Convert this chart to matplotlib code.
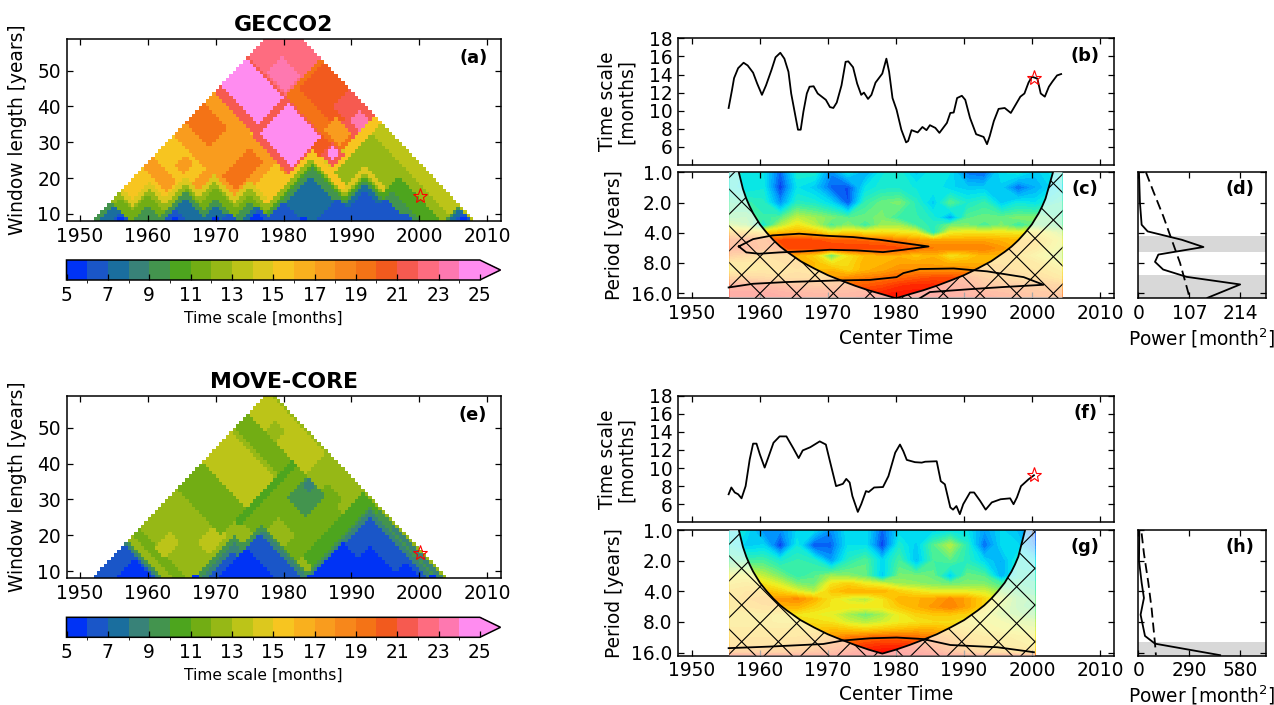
import numpy as np
import matplotlib
matplotlib.use("Agg")
import matplotlib.pyplot as plt
from matplotlib.colors import ListedColormap, BoundaryNorm, LinearSegmentedColormap
from matplotlib.lines import Line2D
from matplotlib.patches import Polygon
from matplotlib.transforms import IdentityTransform

W, H = 1274, 705
FS = 13.4
plt.rcParams.update({"font.size": FS, "font.family": "DejaVu Sans"})

# ------------------------------------------------ colour scale of the window maps
LEVELS = list(range(5, 26))
MAP_COLORS = ["#0033f5", "#1a56c8", "#1a6e9e", "#388278", "#43944e", "#4da51e", "#72ad14",
              "#96b816", "#bcc418", "#dcc81e", "#f7c520", "#f9b01e", "#f99c1e", "#f7871b",
              "#f47316", "#f25a1e", "#f65a50", "#fe6c80", "#fe78b0", "#ff8cf0"]
CBAR_TICKS = list(range(5, 26, 2))
YEAR_TICKS = [1950, 1960, 1970, 1980, 1990, 2000, 2010]
LEN_TICKS = [10, 20, 30, 40, 50]

# ------------------------------------------------ panel (a): blocks of window start / window end
# (first year from, to, last year from, to, time scale in months)
A_BLOCKS = [
    (1974, 1977, 1985, 2012, 14.5), (1977, 2012, 1960, 2012, 12.5),
    (1988, 2012, 2000, 2004, 11.5), (1980, 1990, 2000, 2006, 12),
    (1976, 2012, 2009.5, 2013, 13.5),
    (1948, 1952, 1971, 1974, 17), (1951.5, 1955, 1971, 1974, 17),
    (1952.5, 1955, 1976, 1979, 17), (1957.5, 1960, 1976, 1980, 17),
    (1958.5, 1963, 1982, 1991.5, 16.2),
    (1948, 1958.5, 1980, 1991.8, 17.6), (1948, 1954.6, 1983.4, 1989, 19),
    (1958, 1967, 1979, 1991.5, 17), (1961, 1965, 1981.5, 1989.5, 19.5),
    (1967, 1974, 1986, 1992, 15.5),
    (1968, 1972, 1991, 1998, 18.5), (1972, 1977, 1990, 1998, 15),
    (1970, 1972.5, 1992, 2002, 18.5),
    (1948, 1960, 1992, 2002, 21.5), (1948, 1959, 1994, 2001.5, 24.5),
    (1960, 1970.5, 1991.3, 2002, 21.5), (1960.5, 1969.7, 1992.8, 2001.5, 24.5),
    (1948, 1959, 2002, 2013, 22.5), (1953, 1958.5, 2002.5, 2007, 23.5),
    (1959, 1975, 2002, 2013, 19.5), (1960, 1972, 2005, 2013, 20.5),
    (1967.5, 1971.5, 2007.5, 2013, 21.5), (1971, 1975, 2006, 2013, 21.5),
    (1972, 1975, 2008, 2011, 23), (1969.5, 1974, 2003, 2006.5, 17),
    (1975, 1977, 2003, 2013, 15), (1970, 1972.2, 1998, 2002, 20.5),
    (1972.2, 1975.6, 1998.9, 2002.4, 21.5), (1973, 1974.8, 1999.8, 2001.6, 24.5),
    (1975.6, 1977, 1995, 2003, 15),
]
# windows lying inside a quiet period: (centre of the longest window, its length, months)
A_QUIET = [
    (1955.8, 18, 14), (1960.2, 19, 14), (1965.6, 20.5, 14), (1969.8, 21, 14), (1975, 19, 14),
    (1984.1, 28, 15), (1992, 23, 14),
    (1955.8, 15.6, 12), (1960.2, 17, 12), (1965.6, 18.5, 12), (1969.8, 19, 12), (1975, 17, 12),
    (1984.1, 25.5, 12), (1992, 21, 12),
    (1955.8, 14.5, 11), (1960.2, 15.5, 11), (1965.6, 17, 11), (1969.8, 17.5, 11), (1975, 15.5, 11),
    (1984.1, 24, 10.5), (1992, 20, 10.5), (1997, 20, 10.5),
    (1954.4, 13.7, 9), (1960, 12.5, 9), (1965.6, 16.5, 9), (1970, 14, 9), (1975, 13, 9),
    (1984.1, 23, 9), (1992, 19, 9), (1996, 16.5, 9), (2005.9, 12, 9),
    (1965.6, 14.5, 7.5), (1984.1, 20.5, 7.5), (1992, 18, 7.5), (1976, 12, 7.5), (1970, 12, 7.5),
    (1954.8, 12.5, 7.5), (2006, 11.5, 7.5),
    (1992, 16, 6.5), (1995, 14.5, 6.5), (1955.8, 10.5, 6.5), (1964, 11.5, 6.5), (1976.5, 11.5, 6.5),
    (1972, 10.5, 6.5), (1980, 13.5, 6.5), (1988, 14, 6.5), (2006.3, 10.5, 6.5), (1998, 10, 6.5),
    (1955.8, 9.5, 5.5), (1976, 10.5, 5.5), (1964, 9.5, 5.5), (1983, 9.5, 5.5), (2006.5, 9.5, 5.5),
    (1970, 9, 5.5),
]
A_LAST_YEAR = 2012
A_STAR = (2000.2, 15)

# ------------------------------------------------ panel (e)
E_BLOCKS = [
    (1948, 1963, 1968, 1970, 11.5), (1953, 1956, 1969.5, 1974, 13.5),
    (1958.5, 1962, 1976.5, 1982, 13.5),
    (1948, 1961, 1981, 1988.3, 11.5), (1948, 1961, 1988.3, 1996.7, 13.5),
    (1948, 1961, 1996.7, 1998, 12), (1948, 1961, 1998, 2002, 11.5),
    (1948, 1965, 2002, 2008, 13), (1953, 1956, 2002, 2005, 12.5),
    (1961, 1962.5, 1985, 2002, 10.5), (1962.5, 1966, 1986, 2002, 11),
    (1966, 1976, 1980, 2002, 11), (1967, 1972, 1986, 1992, 12),
    (1965.5, 1971, 1996, 2002, 9.5), (1965.7, 1968, 2000, 2002.5, 8),
    (1976, 1984, 1990, 2000, 10), (1966, 1976, 2002, 2008, 12.5),
    (1969.5, 1974, 2002, 2004, 11), (1976, 1984, 2000, 2008, 10.5),
    (1981, 1990, 2003, 2008, 9.5), (1985, 2008, 1995, 2008, 8.5),
]
E_QUIET = [
    (1956.3, 19.5, 9), (1972.7, 19.6, 9), (1976.8, 23, 9), (1981, 13, 9), (1992.9, 28, 9), (2000.5, 12, 9.5),
    (1956.3, 18.5, 8), (1972.7, 18, 8), (1976.8, 21.5, 8), (1992.9, 27, 8), (1982, 11, 8), (2000, 10.5, 8),
    (1956.3, 17.5, 6.5), (1972.5, 15, 6.5), (1976.5, 20, 6.5), (1992.9, 25, 6.5), (1980, 10, 6.5), (1985, 10, 6.5),
    (1957.8, 13.5, 5.5), (1974.5, 16, 5.5), (1988.7, 17.7, 5.5), (1992.9, 16.8, 5.5), (1998, 12, 5.5),
    (2002, 9.5, 5.5), (1984, 9, 5.5), (1967, 9.2, 5.5),
]
E_LAST_YEAR = 2008
E_STAR = (2000.2, 15)

# ------------------------------------------------ panel (b) time series
B_YEARS = [1955.4, 1955.9, 1956.2, 1956.8, 1957.6, 1958.2, 1959, 1959.6, 1960.3, 1960.9, 1961.7, 1962.3, 1963,
           1963.6, 1964.2, 1964.6, 1965.1, 1965.6, 1966, 1966.4, 1966.9, 1967.3, 1967.9, 1968.5, 1969.7, 1970.3,
           1970.8, 1971.3, 1972, 1972.6, 1973, 1973.7, 1974.3, 1974.9, 1975.3, 1975.9, 1976.4, 1977, 1978, 1978.6,
           1979, 1979.5, 1980.1, 1980.8, 1981.5, 1981.8, 1982.3, 1983.2, 1983.9, 1984.5, 1985, 1985.8, 1986.4,
           1987.5, 1988, 1988.5, 1989, 1989.7, 1990.2, 1990.9, 1991.8, 1992.9, 1993.4, 1993.8, 1994.4, 1995.1,
           1996, 1996.9, 1997.6, 1998.3, 1998.9, 1999.5, 2000, 2000.8, 2001.3, 2001.9, 2002.5, 2003, 2003.7, 2004.3]
B_SCALE = [10.3, 12.3, 13.6, 14.7, 15.3, 15.0, 14.2, 13.0, 11.75, 12.8, 14.5, 15.9, 16.4,
           15.75, 14.3, 11.9, 9.9, 7.9, 7.9, 9.9, 11.9, 12.65, 12.7, 11.9, 11.2, 10.4,
           10.3, 10.9, 12.8, 15.4, 15.45, 14.8, 13.0, 11.75, 12.0, 11.3, 11.75, 13.1, 14.1, 15.75,
           14.3, 11.4, 10.1, 7.9, 6.5, 6.65, 7.85, 7.6, 8.2, 7.85, 8.4, 8.1, 7.55,
           8.65, 9.75, 9.8, 11.4, 11.65, 11.2, 9.2, 7.4, 7.1, 6.3, 7.2, 8.85, 10.2,
           10.3, 9.75, 10.65, 11.55, 11.9, 13.1, 13.75, 13.55, 11.9, 11.55, 12.65, 13.2, 13.9, 14.05]
B_STAR = (2000.3, 13.65)

# ------------------------------------------------ panel (f) time series
F_YEARS = [1955.4, 1955.8, 1956.3, 1956.8, 1957.3, 1957.9, 1958.5, 1959, 1959.5, 1960, 1960.7, 1961.2, 1962, 1962.9,
           1963.9, 1964.9, 1965.7, 1966.3, 1967.4, 1968.8, 1969.7, 1970.3, 1971.2, 1972.2, 1972.7, 1973.2, 1973.6,
           1974.4, 1974.9, 1975.6, 1976, 1976.8, 1978.1, 1978.9, 1979.9, 1980.6, 1981.1, 1981.6, 1982.8, 1983.8,
           1984.3, 1986, 1986.6, 1987.2, 1988, 1988.4, 1988.9, 1989.4, 1989.9, 1990.9, 1991.5, 1992.4, 1993.2,
           1994.1, 1995.4, 1996.8, 1997.3, 1997.8, 1998.4, 1999.5, 2000.3]
F_SCALE = [7.1, 7.85, 7.3, 7.1, 6.65, 8.0, 10.95, 12.7, 12.7, 11.5, 10.05, 11.1, 12.8, 13.5,
           13.5, 12.2, 11.1, 11.95, 12.3, 12.95, 12.6, 10.75, 8.0, 8.25, 8.8, 8.4, 6.9,
           5.15, 6.0, 7.45, 7.35, 7.85, 7.9, 9.1, 11.7, 12.6, 11.85, 10.9, 10.65, 10.6,
           10.7, 10.75, 8.55, 8.2, 5.65, 5.4, 5.8, 4.9, 6.0, 7.3, 7.3, 6.35, 5.4,
           6.2, 6.55, 6.65, 6.0, 6.75, 8.0, 8.75, 9.2]
F_STAR = (2000.3, 9.2)

SCALE_TICKS = [6, 8, 10, 12, 14, 16, 18]

# ------------------------------------------------ wavelet power, panels (c) and (g), on a 0-100 relative scale
PERIODS = [1, 1.41, 2, 2.83, 3.36, 4, 4.76, 5.66, 6.73, 8, 9.5, 11.3, 13.5, 16, 18]
PERIOD_TICKS = [1, 2, 4, 8, 16]
PERIOD_LABELS = ["1.0", "2.0", "4.0", "8.0", "16.0"]

C_TIMES = [1955.5, 1958, 1960.5, 1963, 1965.5, 1968, 1970.5, 1973, 1975.5, 1978,
           1980.5, 1983, 1985.5, 1988, 1990.5, 1993, 1995.5, 1998, 2000.5, 2004.5]
C_POWER = [
    [34, 32, 30, 14, 34, 34, 18, 30, 22, 32, 34, 26, 32, 30, 16, 14, 30, 32, 26, 34],
    [34, 30, 32, 10, 30, 26, 14, 12, 30, 34, 34, 32, 32, 28, 26, 26, 26, 14, 22, 32],
    [40, 38, 36, 18, 36, 34, 28, 12, 38, 44, 46, 36, 26, 42, 34, 38, 26, 32, 30, 38],
    [44, 45, 38, 42, 54, 50, 46, 42, 44, 46, 38, 38, 34, 20, 42, 44, 44, 46, 46, 40],
    [52, 48, 32, 52, 62, 54, 40, 48, 38, 50, 50, 40, 36, 45, 46, 40, 46, 38, 44, 42],
    [74, 70, 66, 70, 72, 70, 62, 66, 64, 64, 62, 60, 35, 60, 62, 62, 62, 60, 64, 52],
    [86, 86, 84, 88, 90, 88, 86, 85, 84, 82, 80, 76, 74, 74, 74, 74, 72, 72, 70, 58],
    [88, 88, 84, 86, 90, 90, 90, 90, 90, 90, 88, 84, 80, 80, 80, 80, 76, 72, 68, 56],
    [80, 76, 72, 74, 72, 66, 42, 62, 70, 72, 72, 68, 72, 62, 66, 72, 72, 68, 62, 52],
    [68, 68, 70, 72, 74, 70, 62, 64, 72, 72, 74, 74, 74, 72, 72, 72, 72, 70, 68, 58],
    [66, 68, 70, 70, 72, 70, 72, 66, 72, 74, 78, 78, 78, 78, 78, 76, 74, 72, 70, 64],
    [78, 78, 76, 74, 74, 74, 76, 78, 80, 82, 84, 86, 88, 88, 86, 80, 76, 74, 74, 68],
    [92, 92, 90, 88, 84, 82, 82, 84, 86, 88, 92, 94, 94, 92, 90, 84, 82, 82, 80, 78],
    [96, 96, 96, 94, 92, 90, 90, 90, 92, 94, 96, 96, 96, 94, 92, 90, 88, 86, 84, 82],
    [98, 98, 98, 96, 94, 92, 92, 92, 94, 96, 98, 98, 98, 96, 94, 92, 90, 88, 86, 84],
]
C_COI_T = [1955.5, 1956.9, 1957.5, 1958, 1958.5, 1959, 1960, 1961, 1962, 1963, 1964, 1966, 1968, 1970, 1972, 1974,
           1976, 1978, 1980, 1982, 1984, 1986, 1988, 1990, 1992, 1994, 1996, 1997, 1998, 1999, 2000, 2000.5, 2001,
           2001.5, 2002, 2003.1, 2004.5]
C_COI_P = [0.8, 1.0, 1.46, 1.83, 2.19, 2.56, 3.3, 4.0, 4.75, 5.5, 6.2, 7.7, 9.1, 10.6, 12, 13.5,
           15, 16.4, 18, 16.4, 15, 13.5, 12, 10.6, 9.1, 7.7, 6.2, 5.5, 4.75, 4.0, 3.3, 2.9, 2.56,
           2.19, 1.83, 1.0, 0.8]
C_SIG1_T = [1956.9, 1959, 1961.9, 1965.8, 1969.8, 1973.7, 1977.6, 1981.1, 1984.8, 1981.1, 1978.1, 1974.2,
            1970.3, 1966.3, 1962.9, 1959.9, 1958, 1956.9]
C_SIG1_P = [5.48, 4.63, 4.25, 4.09, 4.29, 4.42, 4.7, 5.07, 5.48, 5.91, 6.24, 6.0,
            5.91, 6.14, 6.28, 6.48, 6.28, 5.48]
C_SIG2_T = [1955.4, 1959, 1963.9, 1971.2, 1976.2, 1980.1, 1981.1, 1983.5, 1988.5, 1993.4, 1998.8, 2001.7,
            1995.8, 1990.9, 1985, 1983.5]
C_SIG2_P = [14.04, 12.9, 12.4, 11.96, 11.8, 11.08, 10.1, 9.2, 9.08, 9.7, 11.08, 13.2,
            13.9, 14.6, 15.6, 18]

G_TIMES = [1955.5, 1958, 1960.5, 1963, 1965.5, 1968, 1970.5, 1973, 1975.5, 1978,
           1980.5, 1983, 1985.5, 1988, 1990.5, 1993, 1995.5, 1998, 2000.5]
G_POWER = [
    [32, 30, 18, 18, 28, 28, 18, 30, 30, 14, 28, 30, 28, 30, 30, 20, 28, 24, 12],
    [34, 26, 28, 10, 32, 12, 14, 30, 30, 10, 34, 26, 42, 52, 36, 14, 28, 28, 16],
    [40, 40, 40, 34, 38, 36, 20, 36, 42, 28, 40, 24, 40, 42, 36, 28, 22, 34, 30],
    [60, 60, 54, 46, 38, 42, 50, 48, 44, 26, 46, 46, 44, 26, 44, 42, 22, 36, 36],
    [64, 66, 62, 56, 46, 44, 62, 66, 60, 56, 50, 48, 46, 44, 46, 46, 40, 40, 38],
    [68, 70, 70, 66, 58, 52, 68, 72, 72, 72, 66, 62, 58, 58, 58, 56, 48, 42, 40],
    [68, 72, 74, 76, 78, 72, 62, 56, 52, 62, 72, 72, 74, 78, 74, 66, 56, 46, 44],
    [68, 70, 72, 72, 72, 66, 62, 62, 62, 62, 68, 72, 76, 80, 74, 66, 54, 46, 42],
    [66, 66, 66, 64, 62, 60, 58, 50, 44, 50, 60, 66, 68, 68, 66, 60, 52, 48, 46],
    [66, 66, 66, 64, 64, 64, 62, 56, 52, 56, 60, 62, 64, 64, 62, 60, 58, 54, 52],
    [68, 68, 68, 68, 68, 68, 70, 68, 66, 68, 70, 72, 72, 70, 66, 62, 60, 58, 56],
    [70, 70, 70, 70, 70, 72, 76, 80, 82, 84, 84, 82, 80, 76, 70, 68, 66, 64, 62],
    [72, 72, 72, 72, 74, 76, 82, 86, 90, 92, 92, 90, 86, 80, 74, 70, 68, 66, 64],
    [80, 80, 80, 80, 82, 84, 88, 92, 96, 98, 98, 96, 92, 86, 80, 76, 74, 72, 70],
    [100, 100, 100, 100, 100, 100, 100, 100, 100, 100, 100, 100, 100, 100, 100, 100, 100, 100, 100],
]
G_COI_T = [1955.5, 1956.9, 1957.5, 1958, 1958.5, 1959, 1960, 1961, 1962, 1963, 1964, 1966, 1968, 1970, 1972, 1974,
           1976, 1978, 1980, 1982, 1984, 1986, 1988, 1990, 1992, 1993, 1994, 1995, 1996, 1996.5, 1997, 1997.5,
           1998, 1999, 2000.5]
G_COI_P = [0.8, 1.0, 1.46, 1.83, 2.19, 2.56, 3.3, 4.0, 4.75, 5.5, 6.2, 7.7, 9.1, 10.6, 12, 13.5,
           15, 16.4, 15, 13.5, 12, 10.6, 9.1, 7.7, 6.2, 5.5, 4.75, 4.0, 3.3, 2.9, 2.56, 2.19,
           1.83, 1.0, 0.8]
G_SIG_T = [1955.4, 1961.4, 1969.3, 1972.2, 1976.2, 1980.1, 1984, 1988, 1994.9, 2000.3]
G_SIG_P = [14.5, 14, 13.2, 12.2, 11.6, 11.4, 11.8, 13.5, 14.2, 15.9]

WAVELET_COLORS = ["#0000b4", "#0a3cf0", "#00a0ff", "#00e6f0", "#40f0a0", "#a0f050",
                  "#f0f020", "#ffc000", "#ff8000", "#ff4000", "#ff0000"]

# ------------------------------------------------ global spectra, panels (d) and (h)
D_POWER = [1.4, 3.5, 7, 19.6, 91, 136.5, 42, 35, 52, 101, 213.5, 145]
D_POWER_P = [1.0, 2.03, 3.33, 3.88, 4.7, 5.55, 6.6, 7.8, 9.3, 11, 13.1, 17.8]
D_SIGNIF = [16, 31.5, 52.5, 70, 87.5, 105, 107]
D_SIGNIF_P = [1, 1.55, 2.75, 4.7, 8, 16, 18]
D_BANDS = [(4.29, 6.2), (10.6, 18)]
D_TICKS = [0, 107, 214]

H_POWER = [6, 4, 19, 32, 13, 38, 95, 465]
H_POWER_P = [1, 2, 3.3, 4.66, 6.8, 11, 13.1, 17]
H_SIGNIF = [19, 32, 57, 76, 95, 100]
H_SIGNIF_P = [1.08, 1.7, 3.3, 6, 13.1, 17]
H_BANDS = [(12.6, 18)]
H_TICKS = [0, 290, 580]

YEAR_RANGE = (1948, 2012)


def axpx(l, t, r, b):
    return fig.add_axes([l / W, 1 - b / H, (r - l) / W, (b - t) / H])


def style(ax):
    ax.tick_params(direction="in", top=True, right=True, length=4, width=0.9,
                   pad=4, labelsize=FS)
    for s in ax.spines.values():
        s.set_linewidth(1.1)


def place_label(ax, which, text, px, **kw):
    box = ax.get_position()
    if which == "y":
        ax.set_ylabel(text, va="center", **kw)
        ax.yaxis.set_label_coords((px / W - box.x0) / box.width, 0.5)
    else:
        ax.set_xlabel(text, va="center", **kw)
        ax.xaxis.set_label_coords(0.5, ((1 - px / H) - box.y0) / box.height)


def tag(ax, txt, x, y):
    ax.text(x, y, txt, transform=ax.transAxes, ha="center", va="center",
            fontweight="bold", fontsize=12.75)


def window_map(ax, blocks, quiet, last_year, base):
    c_edges = np.arange(1948, 2012.01, 0.5)
    l_edges = np.arange(8, 61.01, 1.0)
    C, L = np.meshgrid(c_edges[:-1] + 0.25, l_edges[:-1] + 0.5)
    S, E = C - L / 2, C + L / 2
    field = np.full(C.shape, float(base))
    for s0, s1, e0, e1, v in blocks:
        field[(S >= s0) & (S < s1) & (E >= e0) & (E < e1)] = v
    for cc, ll, v in quiet:
        field[(S >= cc - ll / 2) & (E <= cc + ll / 2)] = v
    field = np.ma.masked_where((S < 1948) | (E > last_year), field)
    cmap = ListedColormap(MAP_COLORS)
    cmap.set_over(MAP_COLORS[-1])
    norm = BoundaryNorm(LEVELS, cmap.N)
    return ax.pcolormesh(c_edges, l_edges, field, cmap=cmap, norm=norm, shading="flat")


def map_panel(top, title, blocks, quiet, last_year, base, star, letter, cbar_top, cbar_lab_y):
    ax = axpx(66.5, top, 500.5, top + 182.5)
    mesh = window_map(ax, blocks, quiet, last_year, base)
    ax.plot(*star, marker="*", ms=11, mfc="none", mec="red", mew=0.8, ls="none")
    ax.set_xlim(*YEAR_RANGE)
    ax.set_ylim(8, 59)
    ax.set_xticks(YEAR_TICKS)
    ax.set_yticks(LEN_TICKS)
    style(ax)
    place_label(ax, "y", "Window length [years]", 18)
    tag(ax, letter, 0.937, 0.895)
    ax.set_title(title, fontweight="bold", fontsize=15.8, pad=5.5)

    cax = axpx(66.5, cbar_top, 500.5, cbar_top + 20)
    cb = fig.colorbar(mesh, cax=cax, orientation="horizontal", extend="max",
                      ticks=CBAR_TICKS, extendfrac=0.05, spacing="uniform")
    cb.ax.tick_params(direction="in", length=4, width=0.9, labelsize=FS, pad=4)
    cb.outline.set_linewidth(1.1)
    cb.set_label("Time scale [months]", fontsize=11.2, va="center")
    box = cb.ax.get_position()
    cb.ax.xaxis.set_label_coords(0.477, ((1 - cbar_lab_y / H) - box.y0) / box.height)


def series_panel(l, t, r, b, years, values, star, letter, label_x):
    ax = axpx(l, t, r, b)
    ax.plot(years, values, color="k", lw=1.3)
    ax.plot(*star, marker="*", ms=11, mfc="none", mec="red", mew=0.8, ls="none")
    ax.set_xlim(*YEAR_RANGE)
    ax.set_ylim(4, 18)
    ax.set_xticks(YEAR_TICKS)
    ax.set_xticklabels([])
    ax.set_yticks(SCALE_TICKS)
    style(ax)
    place_label(ax, "y", "Time scale\n[months]", label_x, linespacing=1.05)
    tag(ax, letter, 0.935, 0.86)
    return ax


HATCH_STEP = 36.67
HATCH_PHASE = 26.6


def hatch_lines(ax, clip):
    for k in range(-25, 60):
        x0 = HATCH_PHASE + k * HATCH_STEP
        for x1 in (x0 + H, x0 - H):
            ln = Line2D([x0, x1], [H, 0], transform=IdentityTransform(), color="k", lw=0.8, zorder=4)
            ax.add_artist(ln)
            ln.set_clip_path(clip)


def wavelet_panel(l, t, r, b, times, power, coi_t, coi_p, sig_lines, letter, p_max):
    ax = axpx(l, t, r, b)
    cmap = LinearSegmentedColormap.from_list("wave", WAVELET_COLORS)
    ax.contourf(times, PERIODS, np.array(power, float), levels=np.linspace(0, 100, 41),
                cmap=cmap, extend="both")
    ax.set_yscale("log", base=2)
    ax.set_xlim(*YEAR_RANGE)
    ax.set_ylim(p_max, 1)
    outside = list(zip(coi_t, coi_p)) + [(times[-1], 0.8), (times[-1], p_max), (times[0], p_max), (times[0], 0.8)]
    mask = Polygon(outside, closed=True, facecolor="white", alpha=0.66, edgecolor="none", zorder=3)
    ax.add_patch(mask)
    hatch_lines(ax, mask)
    ax.plot(coi_t[1:-1], coi_p[1:-1], color="k", lw=1.3, zorder=6)
    for st, sp in sig_lines:
        ax.plot(st, sp, color="k", lw=1.3, zorder=5)
    ax.set_xlim(*YEAR_RANGE)
    ax.set_ylim(p_max, 1)
    ax.set_xticks(YEAR_TICKS)
    ax.set_yticks(PERIOD_TICKS)
    ax.set_yticklabels(PERIOD_LABELS)
    ax.minorticks_off()
    style(ax)
    place_label(ax, "y", "Period [years]", 614)
    tag(ax, letter, 0.935, 0.867)
    return ax


def spectrum_panel(t, b, power, power_p, signif, signif_p, bands, ticks, xmax, letter, p_max, lab_y):
    ax = axpx(1138.3, t, 1265.7, b)
    for lo, hi in bands:
        ax.axhspan(lo, hi, color="#d8d8d8", lw=0)
    ax.plot(power, power_p, color="k", lw=1.3)
    ax.plot(signif, signif_p, color="k", lw=1.3, dashes=(5.5, 2.8))
    ax.set_yscale("log", base=2)
    ax.set_ylim(p_max, 1)
    ax.set_xlim(0, xmax)
    ax.set_xticks(ticks)
    ax.set_yticks(PERIOD_TICKS)
    ax.set_yticklabels([])
    ax.minorticks_off()
    style(ax)
    place_label(ax, "x", "Power [month$^2$]", lab_y)
    tag(ax, letter, 0.8, 0.867)


fig = plt.figure(figsize=(W / 100, H / 100), dpi=100)

map_panel(38.5, "GECCO2", A_BLOCKS, A_QUIET, A_LAST_YEAR, 15.5, A_STAR, "(a)", 260, 318)
map_panel(395.7, "MOVE-CORE", E_BLOCKS, E_QUIET, E_LAST_YEAR, 12.5, E_STAR, "(e)", 617.3, 675)

series_panel(678.3, 38.3, 1113.5, 165, B_YEARS, B_SCALE, B_STAR, "(b)", 617)
series_panel(678.3, 395.7, 1113.5, 522.3, F_YEARS, F_SCALE, F_STAR, "(f)", 617)

axc = wavelet_panel(678.3, 172.3, 1113.5, 298.3, C_TIMES, C_POWER, C_COI_T, C_COI_P,
                    [(C_SIG1_T, C_SIG1_P), (C_SIG2_T, C_SIG2_P)], "(c)", 18)
place_label(axc, "x", "Center Time", 338)
axg = wavelet_panel(678.3, 530, 1113.5, 655.7, G_TIMES, G_POWER, G_COI_T, G_COI_P,
                    [(G_SIG_T, G_SIG_P)], "(g)", 17.2)
place_label(axg, "x", "Center Time", 695)

spectrum_panel(172.3, 298.3, D_POWER, D_POWER_P, D_SIGNIF, D_SIGNIF_P, D_BANDS, D_TICKS, 267, "(d)", 18, 338)
spectrum_panel(530, 655.7, H_POWER, H_POWER_P, H_SIGNIF, H_SIGNIF_P, H_BANDS, H_TICKS, 724, "(h)", 17.2, 695)

fig.savefig("out.png", dpi=100)
